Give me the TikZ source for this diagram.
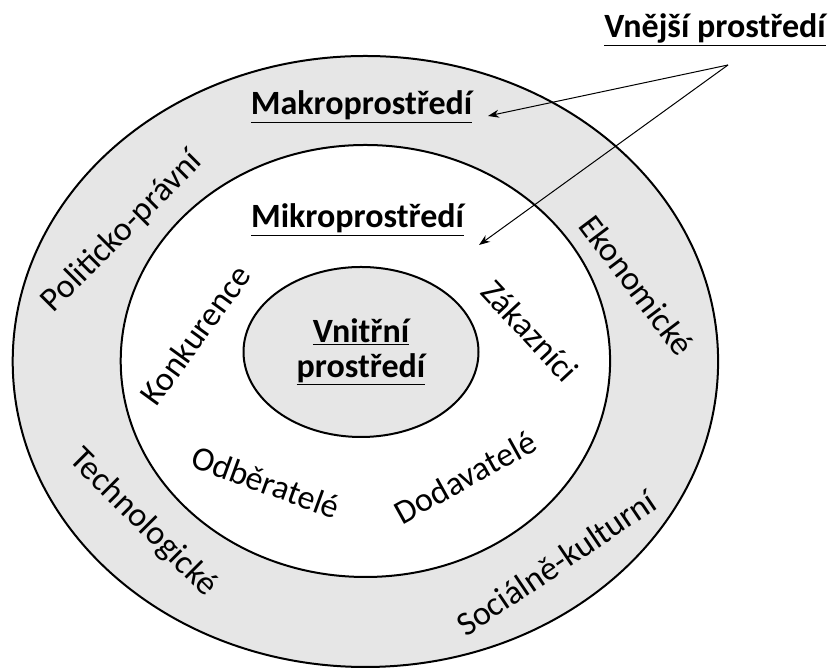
\documentclass[tikz,border=0pt]{standalone}
\usepackage{fontspec}
\setmainfont{Carlito}
\usetikzlibrary{shapes.geometric,arrows.meta}
\definecolor{ringgrey}{RGB}{230,230,230}
\tikzset{
  ring/.style={ellipse, draw=black, line width=2pt, inner sep=0pt},
  lbl/.style={font=\fontsize{34}{40}\selectfont, inner sep=0pt},
  title/.style={font=\fontsize{34}{40}\selectfont\bfseries, inner sep=0pt, anchor=base},
  pointer/.style={line width=1pt, -{Stealth[length=11pt,width=8pt]}}
}
\begin{document}
\begin{tikzpicture}[x=1pt,y=1pt]
\useasboundingbox (0,0) rectangle (833,668);
% rings
\node[ring, fill=ringgrey, minimum width=705.4pt, minimum height=611pt] (outer) at (365.4,306.5) {};
\node[ring, fill=white, minimum width=489.4pt, minimum height=432pt] (middle) at (365.4,307) {};
\node[ring, fill=ringgrey, minimum width=235pt, minimum height=170pt,
      font=\fontsize{34}{35}\selectfont\bfseries, align=center] (inner) at (361,316)
      {\underline{Vnitřní}\\\underline{prostředí}};
% titles
\node[title] (vnejsi) at (715,630) {\underline{Vnější prostředí}};
\node[title] (makro) at (361.5,553) {\underline{Makroprostředí}};
\node[title] (mikro) at (357.5,440) {\underline{Mikroprostředí}};
% macro environment factors
\node[lbl, rotate=45]  (polit) at (122,436) {Politicko-právní};
\node[lbl, rotate=-45] (tech)  at (143,145) {Technologické};
\node[lbl, rotate=-53] (ekon)  at (637,383) {Ekonomické};
\node[lbl, rotate=34]  (soc)   at (556,105) {Sociálně-kulturní};
% micro environment factors
\node[lbl, rotate=54]  (konk)  at (195,333) {Konkurence};
\node[lbl, rotate=-47] (zak)   at (530,337) {Zákazníci};
\node[lbl, rotate=-20] (odb)   at (266,186) {Odběratelé};
\node[lbl, rotate=29]  (dod)   at (465,191) {Dodavatelé};
% arrows
\coordinate (apex) at (728,603);
\coordinate (tipmakro) at (488,552);
\coordinate (tipmikro) at (479,423);
\draw[pointer] (apex) -- (tipmakro);
\draw[pointer] (apex) -- (tipmikro);
\end{tikzpicture}
\end{document}
